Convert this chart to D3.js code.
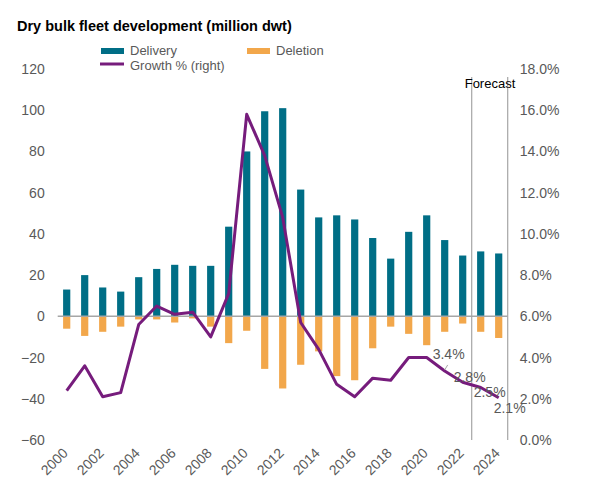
<!DOCTYPE html>
<html>
<head>
<meta charset="utf-8">
<script src="https://cdn.jsdelivr.net/npm/d3@7"></script>
<style>
  body { margin: 0; background: #fff; }
  svg { font-family: "Liberation Sans", Arial, sans-serif; }
</style>
</head>
<body>
<div id="chart"></div>
<script>
(function () {
    'use strict';

    var years = d3.range(2000, 2025).map(String);
    var delivery = [13, 20, 14, 12, 19, 23, 25, 24.5, 24.5, 43.5, 80, 99.5, 101, 61.5,
                    48, 49, 47, 38, 28, 41, 49, 37, 29.5, 31.5, 30.5];
    var deletion = [-6, -9.5, -7.5, -5, -1.5, -1.5, -3, -1, -5, -13, -7, -25.5, -35, -23.5,
                    -17, -29, -31, -15.5, -5, -8.5, -14, -7.5, -3.5, -7.5, -10.5];
    var growth = [2.4, 3.6, 2.1, 2.3, 5.6, 6.5, 6.1, 6.2, 5.0, 7.1, 15.8, 13.8, 10.8, 5.7,
                  4.4, 2.7, 2.1, 3.0, 2.9, 4.0, 4.0, 3.35, 2.8, 2.55, 2.05];
    var growthLabels = [{year: '2021', text: '3.4%'}, {year: '2022', text: '2.8%'},
                        {year: '2023', text: '2.5%'}, {year: '2024', text: '2.1%'}];
    var leftTicks = [-60, -40, -20, 0, 20, 40, 60, 80, 100, 120];
    var rightTicks = [0, 2, 4, 6, 8, 10, 12, 14, 16, 18];
    var xLabels = years.filter(function (d) { return +d % 2 === 0; });
    var forecastStart = '2023';

    var width = 595, height = 504;
    var margin = {top: 69, right: 87.3, bottom: 64, left: 57.7};
    var labelNudge = [[-12, -12], [-9, 0], [-7, 10], [-5, 15]];

    var colors = {delivery: '#006E86', deletion: '#F2A74B', growth: '#761C7C',
                  grid: '#A6A6A6', text: '#595959'};

    var svg = d3.select('#chart').append('svg')
        .attr('width', width)
        .attr('height', height);

    var x = d3.scaleBand()
        .domain(years)
        .range([margin.left, width - margin.right])
        .paddingInner(0.6)
        .paddingOuter(0.3);

    var y = d3.scaleLinear()
        .domain([-60, 120])
        .range([height - margin.bottom, margin.top]);

    var y2 = d3.scaleLinear()
        .domain([0, 18])
        .range([height - margin.bottom, margin.top]);

    var cx = function (d) { return x(d) + x.bandwidth() / 2; };

    // title
    svg.append('text')
        .attr('x', 17)
        .attr('y', 31)
        .style('font-size', '14.5px')
        .style('font-weight', 'bold')
        .style('fill', '#000')
        .text('Dry bulk fleet development (million dwt)');

    // legend
    var legend = svg.append('g').style('font-size', '13px').style('fill', colors.text);
    legend.append('rect').attr('x', 101).attr('y', 48).attr('width', 23).attr('height', 6)
        .attr('fill', colors.delivery);
    legend.append('text').attr('x', 130).attr('y', 55).text('Delivery');
    legend.append('rect').attr('x', 247).attr('y', 48).attr('width', 23).attr('height', 6)
        .attr('fill', colors.deletion);
    legend.append('text').attr('x', 276).attr('y', 55).text('Deletion');
    legend.append('line').attr('x1', 100).attr('x2', 124).attr('y1', 64).attr('y2', 64)
        .attr('stroke', colors.growth).attr('stroke-width', 3);
    legend.append('text').attr('x', 130).attr('y', 69.5).text('Growth % (right)');

    // axes
    var leftAxis = svg.append('g')
        .attr('transform', 'translate(' + (margin.left - 7) + ',0)')
        .call(d3.axisLeft(y).tickValues(leftTicks).tickSize(0).tickPadding(6));
    leftAxis.select('.domain').remove();

    var rightAxis = svg.append('g')
        .attr('transform', 'translate(' + (width - margin.right) + ',0)')
        .call(d3.axisRight(y2).tickValues(rightTicks).tickSize(0).tickPadding(12)
            .tickFormat(function (d) { return d.toFixed(1) + '%'; }));
    rightAxis.select('.domain').remove();

    svg.selectAll('.tick text')
        .style('font-size', '14px')
        .style('font-family', '"Liberation Sans", Arial, sans-serif')
        .attr('fill', colors.text);

    // x labels
    svg.append('g').selectAll('text')
        .data(xLabels)
        .enter().append('text')
        .attr('transform', function (d) {
            return 'translate(' + (cx(d) + 2) + ',' + (height - margin.bottom + 14) + ') rotate(-45)';
        })
        .style('text-anchor', 'end')
        .style('font-size', '14px')
        .style('fill', colors.text)
        .text(function (d) { return d; });

    // bars
    svg.append('g').selectAll('rect')
        .data(years)
        .enter().append('rect')
        .attr('x', function (d) { return x(d); })
        .attr('width', x.bandwidth())
        .attr('y', function (d, i) { return y(delivery[i]); })
        .attr('height', function (d, i) { return y(0) - y(delivery[i]); })
        .attr('fill', colors.delivery);

    svg.append('g').selectAll('rect')
        .data(years)
        .enter().append('rect')
        .attr('x', function (d) { return x(d); })
        .attr('width', x.bandwidth())
        .attr('y', y(0))
        .attr('height', function (d, i) { return y(deletion[i]) - y(0); })
        .attr('fill', colors.deletion);

    // zero line
    svg.append('line')
        .attr('x1', margin.left).attr('x2', width - margin.right)
        .attr('y1', y(0)).attr('y2', y(0))
        .attr('stroke', colors.grid).attr('stroke-width', 1.5);

    // forecast box
    var prevYear = years[years.indexOf(forecastStart) - 1];
    var fx = (x(prevYear) + x.bandwidth() + x(forecastStart)) / 2;
    [fx, width - margin.right].forEach(function (lx) {
        svg.append('line')
            .attr('x1', lx).attr('x2', lx)
            .attr('y1', 77).attr('y2', height - margin.bottom)
            .attr('stroke', colors.grid).attr('stroke-width', 1.2);
    });
    svg.append('text')
        .attr('x', fx - 7)
        .attr('y', 88)
        .style('font-size', '13px')
        .style('fill', '#000')
        .text('Forecast');

    // growth line
    var line = d3.line()
        .x(function (d, i) { return cx(years[i]); })
        .y(function (d) { return y2(d); });

    svg.append('path')
        .datum(growth)
        .attr('d', line)
        .attr('fill', 'none')
        .attr('stroke', colors.growth)
        .attr('stroke-width', 3)
        .attr('stroke-linejoin', 'round');

    // leader for the first label
    var l0 = years.indexOf(growthLabels[0].year);
    svg.append('line')
        .attr('x1', cx(growthLabels[0].year)).attr('y1', y2(growth[l0]) - 1)
        .attr('x2', cx(growthLabels[0].year) + 3).attr('y2', y2(growth[l0]) - 6)
        .attr('stroke', colors.grid).attr('stroke-width', 1);

    svg.append('g').selectAll('text')
        .data(growthLabels)
        .enter().append('text')
        .attr('x', function (d, i) { return cx(d.year) + labelNudge[i][0]; })
        .attr('y', function (d, i) { return y2(growth[years.indexOf(d.year)]) + labelNudge[i][1]; })
        .style('font-size', '14px')
        .style('fill', colors.text)
        .text(function (d) { return d.text; });
})();
</script>
</body>
</html>
